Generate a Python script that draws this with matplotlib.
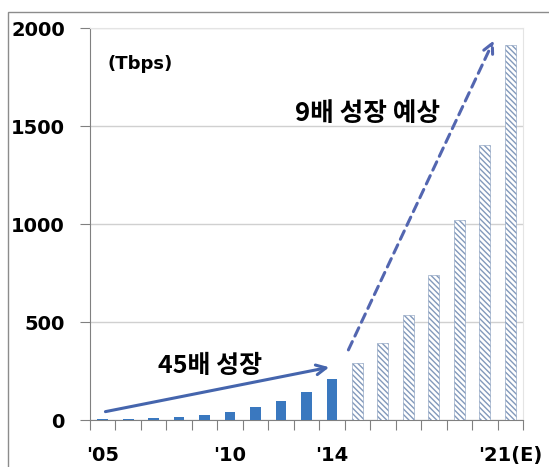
import matplotlib

matplotlib.use("Agg")
import matplotlib.pyplot as plt
from matplotlib.patches import Rectangle

plt.rcParams["font.family"] = ["DejaVu Sans", "Noto Sans CJK KR"]
plt.rcParams["hatch.linewidth"] = 1.0

# Traffic by year (Tbps), 2005-2014 actual, 2015-2021 estimate
years = list(range(2005, 2022))
actual = [5, 7, 8, 15, 25, 43, 68, 98, 141, 209]
forecast = [292, 391, 536, 740, 1020, 1403, 1913]
tick_labels = {0: "'05", 5: "'10", 9: "'14", 16: "'21(E)"}
y_ticks = [0, 500, 1000, 1500, 2000]

BAR_BLUE = "#3a78bf"
HATCH_BLUE = "#8299bb"
ARROW_BLUE = "#4565ad"
DASH_BLUE = "#5366b0"
KO = ["Noto Sans CJK KR", "DejaVu Sans"]

fig = plt.figure(figsize=(5.49, 4.67), dpi=100)
ax = fig.add_axes([0.1639, 0.1006, 0.7887, 0.8394])

# outer frame of the picture
fig.patches.append(Rectangle((8 / 549, -0.1), 1.2, 1 - 12 / 467 + 0.1,
                             transform=fig.transFigure, fill=False,
                             edgecolor="#8c8c8c", linewidth=1.0))

n_act = len(actual)
x_act = range(n_act)
x_fc = range(n_act, n_act + len(forecast))

ax.bar(x_act, actual, width=0.42, color=BAR_BLUE, zorder=3)
ax.bar(x_fc, forecast, width=0.44, color="white", edgecolor=HATCH_BLUE,
       linewidth=0.4, hatch="\\" * 6, zorder=3)

ax.set_xlim(-0.5, len(years) - 0.5)
ax.set_ylim(0, 2000)

ax.set_yticks(y_ticks)
ax.set_yticklabels([str(v) for v in y_ticks], fontsize=14, fontweight="bold")
ax.set_xticks([i - 0.5 for i in range(len(years) + 1)])
ax.set_xticklabels([])
ax.set_xticks(list(tick_labels.keys()), minor=True)
ax.set_xticklabels(list(tick_labels.values()), minor=True,
                   fontsize=14, fontweight="bold")
ax.tick_params(axis="x", which="minor", length=0, pad=19)
ax.tick_params(axis="x", which="major", length=7, color="#808080")
ax.tick_params(axis="y", length=7, color="#808080", pad=11)

ax.yaxis.grid(True, color="#d0d0d0", linewidth=1.0, zorder=0)
ax.set_axisbelow(True)
for side in ("top", "right"):
    ax.spines[side].set_color("#e4e4e4")
for side in ("left", "bottom"):
    ax.spines[side].set_color("#808080")

ax.text(0.2, 1816, "(Tbps)", fontsize=13, fontweight="bold", va="center")

# growth arrows
ax.annotate("", xy=(9.0, 272), xytext=(0.0, 40),
            arrowprops=dict(arrowstyle="->,head_length=0.7,head_width=0.35",
                            color=ARROW_BLUE, lw=2.2), zorder=4)
ax.text(4.2, 275, "45배 성장", family=KO, fontsize=18, fontweight="bold",
        ha="center", va="center")

ax.annotate("", xy=(15.4, 1950), xytext=(9.6, 345),
            arrowprops=dict(arrowstyle="->,head_length=0.7,head_width=0.35",
                            color=DASH_BLUE, lw=2.2, linestyle=(0, (3, 2))),
            zorder=4)
ax.text(10.4, 1566, "9배 성장 예상", family=KO, fontsize=18.5, fontweight="bold",
        ha="center", va="center")

fig.savefig("out.png", dpi=100)
